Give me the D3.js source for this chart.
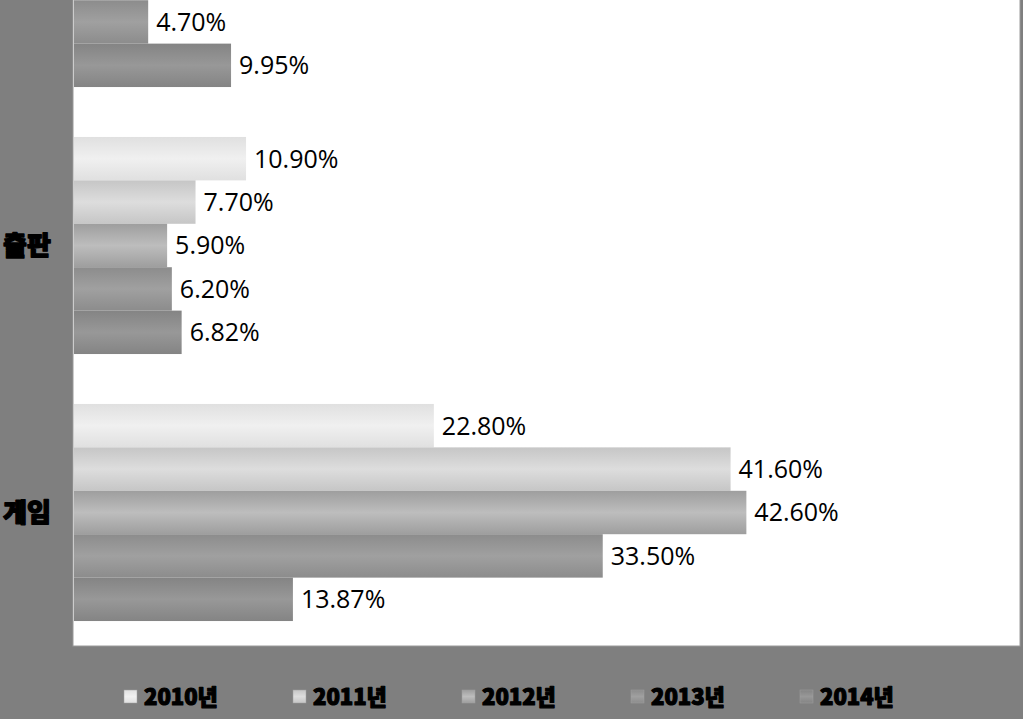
<!DOCTYPE html>
<html><head><meta charset="utf-8">
<script src="https://cdn.jsdelivr.net/npm/d3@7"></script>
<style>html,body{margin:0;padding:0;background:#7f7f7f;}svg{display:block;}</style>
</head><body>
<svg id="chart" width="1023" height="719"></svg>
<script>
// Categories top to bottom (top one is cut off in the original picture)
const categories = ["기타", "출판", "게임"];
const series = ["2010년", "2011년", "2012년", "2013년", "2014년"];
// values per category, per series (null = not visible in the picture)
const valuesTop = [null, null, null, 4.70, 9.95];
const valuesPublishing = [10.90, 7.70, 5.90, 6.20, 6.82];
const valuesGame = [22.80, 41.60, 42.60, 33.50, 13.87];
const xDomainMax = 60;

const data = [valuesTop, valuesPublishing, valuesGame];
const colorEdges = ["#e0e0e0", "#c6c6c6", "#9e9e9e", "#8c8c8c", "#848484"];
const colorMids  = ["#f0f0f0", "#dddddd", "#bdbdbd", "#a0a0a0", "#989898"];

const svg = d3.select("#chart");
const W = 1023, H = 719;
const plot = {left: 73, right: 1020, top: 0, bottom: 646};

svg.append("rect").attr("width", W).attr("height", H).attr("fill", "#7f7f7f");

const defs = svg.append("defs");
series.forEach((s, i) => {
  const g = defs.append("linearGradient").attr("id", "g" + i)
    .attr("x1", 0).attr("x2", 0).attr("y1", 0).attr("y2", 1);
  g.append("stop").attr("offset", "0%").attr("stop-color", colorEdges[i]);
  g.append("stop").attr("offset", "50%").attr("stop-color", colorMids[i]);
  g.append("stop").attr("offset", "100%").attr("stop-color", colorEdges[i]);
});

// plot area
svg.append("rect").attr("x", plot.left).attr("y", plot.top - 2)
  .attr("width", plot.right - plot.left).attr("height", plot.bottom - plot.top + 2)
  .attr("fill", "#ffffff").attr("stroke", "#9a9a9a").attr("stroke-width", 1);

const x = d3.scaleLinear().domain([0, xDomainMax]).range([plot.left + 1, plot.right + 1]);
const y0 = d3.scaleBand().domain(categories).range([-155, plot.bottom])
  .paddingInner(0.187).paddingOuter(0.0935);
const y1 = d3.scaleBand().domain(series).range([0, y0.bandwidth()]);

const groups = svg.append("g").selectAll("g").data(categories).join("g")
  .attr("transform", c => `translate(0,${y0(c)})`);

groups.each(function(c, ci) {
  const g = d3.select(this);
  const rows = series.map((s, si) => ({s, si, v: data[ci][si]})).filter(d => d.v != null);
  g.selectAll("rect").data(rows).join("rect")
    .attr("x", x(0)).attr("y", d => y1(d.s))
    .attr("width", d => x(d.v) - x(0)).attr("height", y1.bandwidth())
    .attr("fill", d => `url(#g${d.si})`);
  g.selectAll("text").data(rows).join("text")
    .attr("x", d => x(d.v) + 8).attr("y", d => y1(d.s) + y1.bandwidth() / 2)
    .attr("dy", "0.36em")
    .attr("font-family", "'Open Sans', 'Noto Sans', sans-serif")
    .attr("font-size", 25).attr("fill", "#000")
    .text(d => d.v.toFixed(2) + "%");
});

// category axis labels (only those whose centre lies inside the picture)
svg.append("g").selectAll("text")
  .data(categories.filter(c => y0(c) + y0.bandwidth() / 2 > 10)).join("text")
  .attr("x", 3).attr("y", c => y0(c) + y0.bandwidth() / 2)
  .attr("dy", "0.36em")
  .attr("font-family", "'Noto Sans CJK KR', sans-serif")
  .attr("font-weight", 900).attr("font-size", 26).attr("fill", "#000")
  .attr("stroke", "#000").attr("stroke-width", 1.3).attr("stroke-linejoin", "round")
  .text(c => c);

// legend
const legendX = d3.scalePoint().domain(series).range([124, 800]);
const lg = svg.append("g").selectAll("g").data(series).join("g")
  .attr("transform", s => `translate(${legendX(s)},697)`);
lg.append("rect").attr("x", 0).attr("y", -7).attr("width", 13).attr("height", 13)
  .attr("fill", (s, i) => `url(#g${i})`).attr("stroke", "#a0a0a0").attr("stroke-width", 0.5);
lg.append("text").attr("x", 20).attr("y", 0).attr("dy", "0.36em")
  .attr("font-family", "'Noto Sans CJK KR', sans-serif")
  .attr("font-weight", 900).attr("font-size", 22).attr("fill", "#000")
  .attr("stroke", "#000").attr("stroke-width", 1.2).attr("stroke-linejoin", "round")
  .text(s => s);
</script>
</body></html>
